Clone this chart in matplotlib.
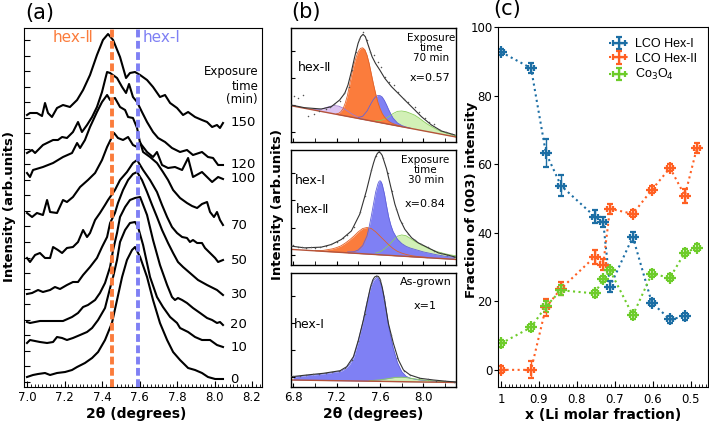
import numpy as np
import matplotlib
matplotlib.use("Agg")
import matplotlib.pyplot as plt
from matplotlib.ticker import MultipleLocator, FixedLocator, NullFormatter

plt.rcParams['font.family'] = ['DejaVu Sans']

# ---------------- (a) XRD (003) peak vs exposure time ----------------
times = [0, 10, 20, 30, 50, 70, 100, 120, 150]

tt_0 = [7.0, 7.032, 7.059, 7.096, 7.123, 7.16, 7.203, 7.24, 7.267, 7.309, 7.347, 7.379, 7.416, 7.453, 7.48, 7.507,
        7.533, 7.56, 7.576, 7.603, 7.64, 7.672, 7.709, 7.747, 7.779, 7.816, 7.859, 7.896, 7.933, 7.965, 8.003, 8.045]
int_0 = [10, 12, 13, 14, 12, 14, 15, 17, 20, 24, 29, 35, 47, 64, 87, 110,
         127, 137, 140, 130, 110, 87, 64, 47, 35, 27, 19, 17, 14, 10, 8, 8]

tt_10 = [7.0, 7.016, 7.069, 7.107, 7.139, 7.16, 7.187, 7.213, 7.245, 7.283, 7.32, 7.347, 7.379, 7.416, 7.443, 7.459,
         7.48, 7.496, 7.523, 7.549, 7.576, 7.592, 7.619, 7.656, 7.693, 7.725, 7.763, 7.80, 7.816, 7.859, 7.896, 7.933,
         7.976, 8.013, 8.045]
int_10 = [44, 47, 45, 44, 45, 50, 49, 47, 49, 52, 55, 59, 67, 79, 99, 110,
          127, 145, 157, 164, 165, 160, 142, 110, 90, 80, 70, 64, 59, 55, 50, 47,
          47, 42, 40]

tt_20 = [7.0, 7.016, 7.069, 7.139, 7.192, 7.24, 7.272, 7.299, 7.325, 7.363, 7.389, 7.416, 7.443, 7.459, 7.48, 7.496,
         7.523, 7.549, 7.576, 7.603, 7.64, 7.672, 7.709, 7.747, 7.773, 7.789, 7.805, 7.827, 7.853, 7.885, 7.923, 7.96,
         7.987, 8.013, 8.029, 8.045]
int_20 = [65, 64, 66, 66, 66, 70, 74, 80, 82, 87, 94, 104, 120, 137, 154, 170,
          180, 187, 189, 190, 172, 147, 122, 102, 90, 87, 89, 87, 84, 79, 74, 69,
          67, 64, 65, 62]

tt_30 = [7.0, 7.027, 7.059, 7.085, 7.123, 7.149, 7.176, 7.213, 7.245, 7.272, 7.299, 7.336, 7.373, 7.40, 7.427, 7.443,
         7.469, 7.485, 7.512, 7.539, 7.565, 7.587, 7.613, 7.64, 7.667, 7.693, 7.72, 7.752, 7.779, 7.805, 7.832, 7.869,
         7.912, 7.96, 8.013, 8.045]
int_30 = [93, 94, 97, 95, 97, 100, 98, 102, 105, 105, 112, 120, 129, 140, 150, 164,
          174, 184, 197, 207, 213, 215, 207, 195, 182, 170, 157, 144, 134, 125, 120, 114,
          107, 102, 97, 92]

tt_50 = [7.0, 7.016, 7.043, 7.069, 7.096, 7.123, 7.139, 7.165, 7.187, 7.213, 7.245, 7.272, 7.299, 7.32, 7.336, 7.363,
         7.389, 7.416, 7.432, 7.469, 7.496, 7.533, 7.565, 7.587, 7.619, 7.656, 7.693, 7.72, 7.747, 7.773, 7.80, 7.827,
         7.853, 7.869, 7.885, 7.907, 7.933, 7.949, 7.976, 8.003, 8.019, 8.045]
int_50 = [129, 125, 132, 134, 129, 129, 140, 137, 134, 139, 140, 145, 157, 150, 154, 167,
          174, 182, 187, 197, 207, 215, 224, 227, 217, 207, 195, 182, 170, 160, 154, 150,
          149, 145, 147, 144, 144, 139, 134, 129, 125, 127]

tt_70 = [7.0, 7.027, 7.053, 7.085, 7.107, 7.123, 7.16, 7.192, 7.213, 7.245, 7.283, 7.325, 7.363, 7.40, 7.427, 7.453,
         7.464, 7.485, 7.512, 7.539, 7.565, 7.587, 7.603, 7.619, 7.656, 7.693, 7.725, 7.752, 7.779, 7.816, 7.853, 7.88,
         7.907, 7.933, 7.96, 7.976, 7.997, 8.013, 8.029, 8.045]
int_70 = [174, 170, 174, 172, 187, 175, 174, 187, 185, 190, 200, 207, 214, 227, 240, 250,
          254, 249, 247, 250, 242, 240, 245, 235, 230, 224, 215, 207, 197, 189, 184, 181,
          179, 183, 185, 175, 170, 175, 167, 162]

tt_100 = [7.0, 7.016, 7.032, 7.085, 7.139, 7.192, 7.24, 7.267, 7.283, 7.309, 7.336, 7.373, 7.40, 7.427, 7.443, 7.469,
          7.496, 7.523, 7.539, 7.565, 7.587, 7.603, 7.64, 7.672, 7.693, 7.72, 7.752, 7.789, 7.827, 7.859, 7.885, 7.933,
          7.96, 7.987, 8.019, 8.045]
int_100 = [214, 210, 217, 220, 224, 230, 234, 244, 239, 247, 260, 275, 285, 292, 287, 289,
           280, 277, 270, 269, 259, 244, 235, 230, 235, 222, 219, 220, 217, 229, 210, 215,
           210, 205, 210, 208]

tt_120 = [7.0, 7.027, 7.043, 7.085, 7.139, 7.165, 7.187, 7.213, 7.245, 7.272, 7.293, 7.32, 7.347, 7.373, 7.40, 7.416,
          7.427, 7.443, 7.48, 7.507, 7.528, 7.544, 7.565, 7.587, 7.613, 7.64, 7.672, 7.699, 7.736, 7.773, 7.816, 7.853,
          7.885, 7.933, 7.965, 7.992, 8.019, 8.045]
int_120 = [234, 237, 234, 242, 247, 247, 250, 249, 255, 265, 255, 262, 270, 280, 295, 307,
           315, 314, 309, 300, 294, 303, 290, 285, 275, 265, 255, 249, 245, 239, 235, 237,
           232, 235, 230, 229, 222, 222]

tt_150 = [7.0, 7.016, 7.053, 7.08, 7.096, 7.112, 7.133, 7.16, 7.192, 7.229, 7.267, 7.299, 7.336, 7.373, 7.405, 7.432,
          7.459, 7.496, 7.528, 7.549, 7.576, 7.603, 7.64, 7.672, 7.709, 7.736, 7.763, 7.80, 7.832, 7.859, 7.896, 7.933,
          7.96, 7.987, 8.013, 8.029, 8.045]
int_150 = [272, 274, 274, 271, 284, 274, 270, 279, 282, 280, 287, 297, 312, 332, 347, 353,
           347, 330, 309, 314, 315, 312, 307, 300, 290, 292, 284, 279, 272, 275, 270, 267,
           265, 260, 262, 259, 264]

scans = [(tt_0, int_0), (tt_10, int_10), (tt_20, int_20), (tt_30, int_30), (tt_50, int_50),
         (tt_70, int_70), (tt_100, int_100), (tt_120, int_120), (tt_150, int_150)]

hex2_pos = 7.455
hex1_pos = 7.59

# ---------------- (b) peak fits ----------------
# 70 min, x=0.57
b1_base_x = [6.78, 8.30]
b1_base_y = [36.3, 5.0]
b1_env_x = [6.78, 6.905, 7.059, 7.151, 7.228, 7.275, 7.305, 7.336, 7.367, 7.398, 7.422, 7.444, 7.465, 7.496, 7.527,
            7.558, 7.598, 7.644, 7.706, 7.767, 7.828, 7.905, 7.982, 8.074, 8.166, 8.29]
b1_env_y = [37, 34.3, 33, 35.3, 42, 48.7, 57, 70.3, 85.3, 98.7, 105.3, 107.7, 105.3, 95.3, 85.3,
            78.7, 72, 63.7, 55.3, 48.7, 42, 33.7, 25.3, 17, 11, 7]
b1_dot_x = [6.81, 6.84, 6.89, 6.94, 6.99, 7.04, 7.10, 7.14, 7.18, 7.23, 7.27, 7.31, 7.34, 7.38, 7.41, 7.44, 7.48, 7.51,
            7.54, 7.58, 7.61, 7.65, 7.68, 7.73, 7.77, 7.82, 7.86, 7.92, 7.96, 8.01, 8.05, 8.10, 8.15, 8.21, 8.26]
b1_dot_y = [46.3, 44.3, 47, 26.3, 27.7, 31, 33, 35.3, 37.7, 41, 48.7, 55.3, 72, 89.7, 103, 110.3, 102, 90.3,
            87, 80.3, 75.3, 65.3, 60.3, 57, 50.3, 43, 39.7, 35.3, 29.7, 24.3, 20.3, 17.7, 12, 10.3, 7.7]
b1_purple_x = [6.98, 7.02, 7.06, 7.10, 7.14, 7.18, 7.22, 7.26, 7.30, 7.34, 7.38, 7.42, 7.46]
b1_purple_y = [0.3, 1, 2.3, 4.5, 6.8, 8.3, 8.6, 7.5, 5.5, 3.3, 1.8, 0.8, 0.3]
b1_orange_x = [7.20, 7.22, 7.24, 7.26, 7.28, 7.30, 7.32, 7.34, 7.36, 7.38, 7.40, 7.42, 7.44, 7.46, 7.48, 7.50, 7.52,
               7.54, 7.56, 7.58, 7.60, 7.62, 7.64, 7.66, 7.68, 7.70, 7.74, 7.80]
b1_orange_y = [0.5, 1.5, 3.5, 7, 13, 21, 32, 43, 53, 61, 67, 70.5, 71.5, 70, 65, 57, 47,
               37, 28, 20, 14, 9.5, 6.5, 4.5, 3, 2, 1, 0.3]
b1_blue_x = [7.40, 7.44, 7.48, 7.50, 7.52, 7.54, 7.56, 7.58, 7.60, 7.62, 7.64, 7.66, 7.68, 7.70, 7.72, 7.76, 7.80,
             7.84, 7.88]
b1_blue_y = [1, 3, 9, 13.5, 18, 22, 25, 26.7, 27, 26, 23, 19, 14.5, 10.5, 7, 3, 1.2, 0.5, 0.2]
b1_green_x = [7.56, 7.60, 7.64, 7.68, 7.72, 7.76, 7.80, 7.84, 7.88, 7.92, 7.96, 8.00, 8.04, 8.08, 8.12, 8.16, 8.20,
              8.24, 8.30]
b1_green_y = [1, 2, 4, 7.5, 11.5, 14.5, 15.7, 15.8, 15, 14, 12, 9.5, 7.3, 5.5, 4, 2.8, 2.2, 1.7, 1.2]

# 30 min, x=0.84
b2_base_x = [6.78, 8.30]
b2_base_y = [15.5, 5.5]
b2_env_x = [6.782, 6.905, 7.059, 7.151, 7.244, 7.336, 7.413, 7.475, 7.521, 7.54, 7.558, 7.575, 7.589, 7.605, 7.62,
            7.64, 7.66, 7.70, 7.737, 7.783, 7.829, 7.891, 7.952, 8.045, 8.137, 8.229, 8.30]
b2_env_y = [18.7, 17, 17.7, 20.3, 25.3, 33.7, 50.3, 73.7, 93.7, 101, 107, 110.5, 112, 111, 108.7,
            102, 95.3, 77, 60.3, 45.3, 35.3, 27, 22, 17, 12, 9.7, 7.7]
b2_dot_x = [6.80, 6.84, 6.88, 6.92, 6.96, 7.00, 7.05, 7.10, 7.15, 7.20, 7.26, 7.30, 7.36, 7.42, 7.46, 7.52, 7.56,
            7.59, 7.63, 7.67, 7.71, 7.75, 7.80, 7.86, 7.92, 7.98, 8.04, 8.10, 8.16, 8.22, 8.28]
b2_dot_y = [19.5, 17.5, 18, 16.5, 17.8, 16.8, 18.2, 18.5, 21, 22.5, 27, 30, 38, 53, 68, 94, 108,
            113, 106, 91, 73, 56, 42, 31, 25, 20.5, 17.5, 14, 11.5, 10, 8]
b2_orange_x = [7.00, 7.04, 7.08, 7.12, 7.16, 7.20, 7.24, 7.28, 7.32, 7.36, 7.40, 7.44, 7.48, 7.52, 7.56, 7.60, 7.64,
               7.68, 7.72, 7.76, 7.80, 7.84, 7.88, 7.92, 7.96, 8.04]
b2_orange_y = [0.3, 0.5, 1, 2, 3, 4.5, 6.5, 9.5, 13, 17, 21.5, 25, 26.3, 25.5, 22.5, 18.5, 14.5,
               10.5, 7, 4.5, 3, 2, 1.2, 0.8, 0.5, 0.2]
b2_blue_x = [7.30, 7.36, 7.40, 7.44, 7.48, 7.50, 7.52, 7.54, 7.56, 7.58, 7.59, 7.60, 7.61, 7.62, 7.64, 7.66, 7.68,
             7.70, 7.72, 7.76, 7.80, 7.84, 7.88, 7.92, 7.96, 8.00, 8.06, 8.12, 8.20, 8.28]
b2_blue_y = [0.8, 1.5, 3.5, 8, 18, 27, 38, 50, 62, 70, 72.5, 73.5, 72.5, 70, 61, 49, 38,
             30, 24, 16.5, 12.5, 10, 8.5, 7.5, 6.5, 5.5, 4.5, 3.5, 2.5, 2]
b2_green_x = [7.56, 7.60, 7.64, 7.68, 7.72, 7.76, 7.80, 7.84, 7.88, 7.92, 7.96, 8.00, 8.04, 8.08, 8.12, 8.16, 8.20,
              8.24, 8.30]
b2_green_y = [1.5, 3, 6, 10, 15, 19.5, 21, 20.5, 18, 15.5, 13.5, 11.5, 9.5, 8, 6.8, 5.8, 5, 4.3, 3.6]

# as-grown, x=1
b3_base_x = [6.78, 8.30]
b3_base_y = [7.0, 4.5]
b3_env_x = [6.785, 6.924, 7.078, 7.232, 7.293, 7.355, 7.401, 7.447, 7.493, 7.51, 7.533, 7.55, 7.57, 7.585, 7.60,
            7.62, 7.637, 7.677, 7.723, 7.77, 7.816, 7.877, 7.97, 8.093, 8.216, 8.302]
b3_env_y = [10.3, 12, 13.7, 16.3, 20.3, 30.3, 47, 67, 90.3, 99, 107, 110, 111, 110.5, 108,
            100, 90.3, 63.7, 43.7, 27, 17, 12, 8.7, 7, 5.7, 5]
b3_dot_x = [6.80, 6.86, 6.92, 6.98, 7.04, 7.10, 7.16, 7.22, 7.28, 7.34, 7.40, 7.46, 7.52, 7.56, 7.60, 7.64, 7.70,
            7.76, 7.82, 7.88, 7.96, 8.04, 8.12, 8.20, 8.28]
b3_dot_y = [10.8, 11.5, 12.3, 12.8, 13.5, 14, 15, 16, 19.5, 27, 46, 73, 103, 111, 107, 88, 52,
            29, 16.5, 12, 9, 7.8, 6.5, 5.8, 5.2]
b3_blue_x = [6.80, 6.92, 7.04, 7.16, 7.24, 7.28, 7.32, 7.36, 7.40, 7.44, 7.48, 7.50, 7.52, 7.54, 7.56, 7.57, 7.58,
             7.60, 7.62, 7.64, 7.68, 7.72, 7.76, 7.80, 7.84, 7.88, 7.96, 8.08, 8.20, 8.30]
b3_blue_y = [3, 4.5, 6, 8, 9.5, 12, 16.5, 24, 40, 58, 79, 88, 96, 100.5, 103, 103.8, 103.5,
             100, 93, 83, 55, 34, 19, 10, 5.5, 3.5, 2, 1, 0.6, 0.4]
b3_green_x = [7.50, 7.60, 7.68, 7.74, 7.80, 7.86, 7.92, 8.00, 8.10, 8.20, 8.30]
b3_green_y = [0.5, 1.5, 3, 4.2, 4.5, 4, 3, 2, 1.2, 0.7, 0.4]

# ---------------- (c) phase fractions ----------------
x_li = [1.0, 0.921, 0.882, 0.842, 0.753, 0.731, 0.713, 0.653, 0.603, 0.555, 0.516, 0.484]
hex1_frac = [92.7, 88.0, 63.3, 53.7, 44.7, 43.2, 24.3, 38.8, 19.6, 14.7, 15.6]
hex1_err = [1, 1.5, 4, 3, 2, 1.5, 1.5, 1.5, 1, 1, 1]
hex2_frac = [0, 0, 18.2, 23.7, 33.0, 30.7, 47.0, 45.5, 52.5, 58.9, 50.8, 64.8]
hex2_err = [1, 2.5, 2.5, 2, 2, 1.5, 1.5, 1, 1, 1, 2, 1.5]
co_frac = [7.7, 12.4, 18.5, 23.2, 22.3, 26.5, 29.0, 15.9, 28.0, 26.9, 34.2, 35.6]
co_err = [1, 1, 1.5, 1.5, 1, 1, 1, 1, 1, 1, 1, 1]
x_err = 0.008

ORANGE = '#fb7c3c'
BLUE = '#7f80f4'
C_HEX1 = '#1c6ea4'
C_HEX2 = '#ff5f22'
C_CO = '#6dcc2a'

W, H = 709, 423
fig = plt.figure(figsize=(W / 100, H / 100), dpi=100)


def box(x0, y0, x1, y1):
    # pixel box (top-left origin) -> figure fraction rect
    return [x0 / W, 1 - y1 / H, (x1 - x0) / W, (y1 - y0) / H]


# ---- panel (a)
ax = fig.add_axes(box(24, 28, 262, 387))
ax.axvline(hex2_pos, color=ORANGE, lw=2.8, ls=(0, (2, 0.9)), zorder=3)
ax.axvline(hex1_pos, color=BLUE, lw=2.8, ls=(0, (2, 0.9)), zorder=3)
for t, (xs, ys) in zip(times, scans):
    ax.plot(xs, ys, color='k', lw=1.5, zorder=2)
    ax.text(8.085, ys[-1], str(t), fontsize=9.5, ha='left', va='center')
ax.text(8.232, 301, 'Exposure\ntime\n(min)', fontsize=8.5, ha='right', va='center',
        multialignment='right', linespacing=1.1)
ax.text(7.245, 349, 'hex-Ⅱ', color=ORANGE, fontsize=11, ha='center', va='center')
ax.text(7.72, 349, 'hex-Ⅰ', color=BLUE, fontsize=11, ha='center', va='center')
ax.set_xlim(6.984, 8.253)
ax.set_ylim(0, 359)
ax.set_xticks([7.0, 7.2, 7.4, 7.6, 7.8, 8.0, 8.2])
ax.set_xticklabels(['7.0', '7.2', '7.4', '7.6', '7.8', '8.0', '8.2'])
ax.xaxis.set_minor_locator(MultipleLocator(0.02))
ax.set_yticks(np.arange(5.5, 359, 15.5))
ax.yaxis.set_major_formatter(NullFormatter())
ax.tick_params(which='both', direction='in', labelsize=8.5, pad=3)
ax.tick_params(which='major', length=4)
ax.tick_params(which='minor', length=2.5)
ax.set_xlabel('2θ (degrees)', fontsize=10, fontweight='bold', labelpad=2)
ax.xaxis.set_label_coords(0.47, -0.055)
fig.text(10 / W, 1 - 207 / H, 'Intensity (arb.units)', rotation=90, fontsize=9.5,
         fontweight='bold', ha='center', va='center')

# ---- panel (b)
panels_b = [
    (box(291, 28, 456, 142), b1_base_x, b1_base_y, b1_env_x, b1_env_y, b1_dot_x, b1_dot_y,
     [(b1_purple_x, b1_purple_y, '#dcc3f2', '#a27ad0'),
      (b1_green_x, b1_green_y, '#d2f0b6', '#8ccf5c'),
      (b1_blue_x, b1_blue_y, BLUE, '#6262d8'),
      (b1_orange_x, b1_orange_y, ORANGE, '#e0622a')]),
    (box(291, 150, 456, 265), b2_base_x, b2_base_y, b2_env_x, b2_env_y, b2_dot_x, b2_dot_y,
     [(b2_green_x, b2_green_y, '#d2f0b6', '#8ccf5c'),
      (b2_orange_x, b2_orange_y, ORANGE, '#e0622a'),
      (b2_blue_x, b2_blue_y, BLUE, '#6262d8')]),
    (box(291, 273, 456, 387), b3_base_x, b3_base_y, b3_env_x, b3_env_y, b3_dot_x, b3_dot_y,
     [(b3_blue_x, b3_blue_y, BLUE, '#6262d8'),
      (b3_green_x, b3_green_y, '#d2f0b6', '#8ccf5c')]),
]
axes_b = []
for rect, bx, by, ex, ey, dx, dy, comps in panels_b:
    a = fig.add_axes(rect)
    for cx, cy, fc, ec in comps:
        base = np.interp(cx, bx, by)
        top = base + np.array(cy)
        a.fill_between(cx, base, top, color=fc, lw=0, zorder=1)
        a.plot(cx, top, color=ec, lw=0.6, zorder=1.5)
    a.plot(bx, by, color='#b4533a', lw=1.0, zorder=2)
    a.plot(ex, ey, color='#333333', lw=0.8, zorder=3)
    a.scatter(dx, dy, s=1.2, color='#555555', zorder=4, lw=0)
    a.set_xlim(6.78, 8.30)
    a.set_ylim(0, 114)
    a.set_xticks([6.8, 7.2, 7.6, 8.0])
    a.xaxis.set_minor_locator(FixedLocator([7.0, 7.4, 7.8, 8.2]))
    a.set_yticks([10, 37, 64, 91])
    a.yaxis.set_major_formatter(NullFormatter())
    a.tick_params(which='both', direction='in', length=3, labelsize=8.5, pad=3)
    for s in a.spines.values():
        s.set_linewidth(1.0)
    axes_b.append(a)

axes_b[0].xaxis.set_major_formatter(NullFormatter())
axes_b[1].xaxis.set_major_formatter(NullFormatter())
axes_b[2].set_xticklabels(['6.8', '7.2', '7.6', '8.0'])
axes_b[2].set_xlabel('2θ (degrees)', fontsize=10, fontweight='bold', labelpad=2)

axes_b[0].text(7.0, 75, 'hex-Ⅱ', fontsize=9, ha='center', va='center')
axes_b[0].text(8.07, 94, 'Exposure\ntime\n70 min', fontsize=7.5, ha='center', va='center', linespacing=1.0)
axes_b[0].text(8.06, 64, 'x=0.57', fontsize=8, ha='center', va='center')
axes_b[1].text(6.96, 84, 'hex-Ⅰ', fontsize=9, ha='center', va='center')
axes_b[1].text(6.98, 55, 'hex-Ⅱ', fontsize=9, ha='center', va='center')
axes_b[1].text(8.02, 94, 'Exposure\ntime\n30 min', fontsize=7.5, ha='center', va='center', linespacing=1.0)
axes_b[1].text(8.02, 60, 'x=0.84', fontsize=8, ha='center', va='center')
axes_b[2].text(8.02, 105, 'As-grown', fontsize=8, ha='center', va='center')
axes_b[2].text(8.02, 81, 'x=1', fontsize=8, ha='center', va='center')
axes_b[2].text(6.95, 63, 'hex-Ⅰ', fontsize=9, ha='center', va='center')
fig.text(278 / W, 1 - 205 / H, 'Intensity (arb.units)', rotation=90, fontsize=9.5,
         fontweight='bold', ha='center', va='center')

# ---- panel (c)
axc = fig.add_axes(box(498, 27, 708, 387))
eb = dict(fmt='+:', ms=8, mew=1.6, lw=1.5, elinewidth=1.0, capsize=2.2, capthick=1.0)
axc.errorbar(x_li[:len(hex1_frac)], hex1_frac, xerr=x_err, yerr=hex1_err, color=C_HEX1, label='LCO Hex-I', **eb)
axc.errorbar(x_li, hex2_frac, xerr=x_err, yerr=hex2_err, color=C_HEX2, label='LCO Hex-II', **eb)
axc.errorbar(x_li, co_frac, xerr=x_err, yerr=co_err, color=C_CO, label='Co$_3$O$_4$', **eb)
axc.set_xlim(1.008, 0.455)
axc.set_ylim(-5, 100)
axc.set_xticks([1.0, 0.9, 0.8, 0.7, 0.6, 0.5])
axc.set_xticklabels(['1', '0.9', '0.8', '0.7', '0.6', '0.5'])
axc.xaxis.set_minor_locator(MultipleLocator(0.01))
axc.set_yticks([0, 20, 40, 60, 80, 100])
axc.tick_params(axis='x', which='both', direction='in', labelsize=8.5, pad=4)
axc.tick_params(axis='x', which='major', length=4)
axc.tick_params(axis='x', which='minor', length=2.5)
axc.tick_params(axis='y', direction='out', length=3, labelsize=8.5, pad=1)
axc.set_xlabel('x (Li molar fraction)', fontsize=10, fontweight='bold', labelpad=2)
fig.text(472 / W, 1 - 200 / H, 'Fraction of (003) intensity', rotation=90, fontsize=9.5,
         fontweight='bold', ha='center', va='center')
axc.legend(loc='upper right', frameon=False, handlelength=1.7, handletextpad=0.4,
           borderaxespad=0.5, labelspacing=0.2, prop={'family': 'Liberation Sans', 'size': 9})

# panel letters
fig.text(40 / W, 1 - 13 / H, '(a)', fontsize=15, ha='center', va='center')
fig.text(306 / W, 1 - 12 / H, '(b)', fontsize=15, ha='center', va='center')
fig.text(507 / W, 1 - 9 / H, '(c)', fontsize=15, ha='center', va='center')

fig.savefig('out.png', dpi=100)
